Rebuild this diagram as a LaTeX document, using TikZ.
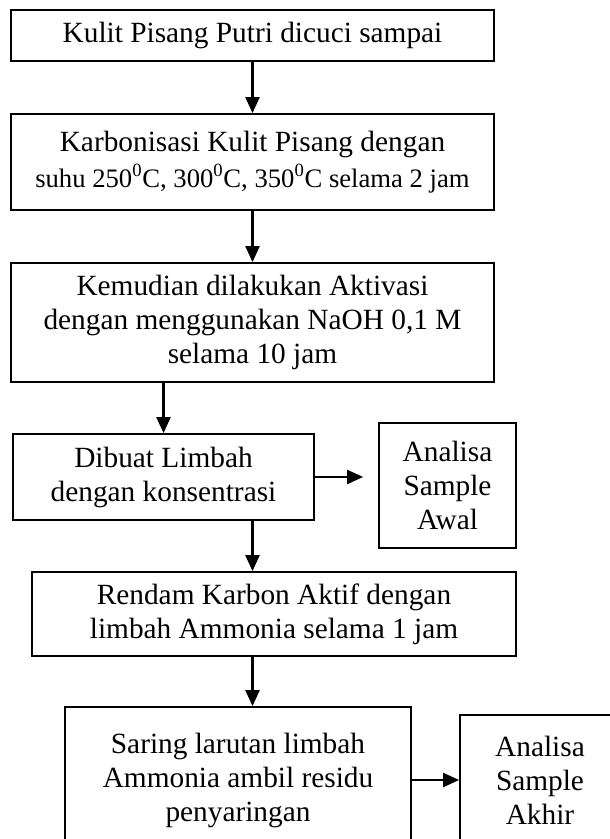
\documentclass[tikz,border=0pt]{standalone}
\usepackage{fontspec}
\setmainfont{Liberation Serif}
\usetikzlibrary{arrows.meta}

\begin{document}
\begin{tikzpicture}[x=0.75pt, y=-0.75pt, every node/.style={inner sep=1.5pt},
  kotak/.style={draw, line width=1.3pt, align=center, font=\fontsize{22pt}{25.5pt}\selectfont},
  panah/.style={-{Triangle[length=12pt,width=10.5pt]}, line width=1.6pt}]
  \useasboundingbox (0,0) rectangle (610,839);
  \node[kotak, minimum width=362.25pt, minimum height=38.25pt] (cuci) at (252.5,35.5) {Kulit Pisang Putri dicuci sampai};
  \node[kotak, minimum width=362.25pt, minimum height=72pt] (karbon) at (252.5,162) {Karbonisasi Kulit Pisang dengan\\[1pt] \fontsize{20pt}{25.5pt}\selectfont suhu 250\textsuperscript{0}C, 300\textsuperscript{0}C, 350\textsuperscript{0}C selama 2 jam};
  \node[kotak, minimum width=362.25pt, minimum height=89.25pt] (aktivasi) at (252.5,322.5) {Kemudian dilakukan Aktivasi\\ dengan menggunakan NaOH 0,1 M\\ selama 10 jam};
  \node[kotak, minimum width=225.75pt, minimum height=64.5pt] (limbah) at (163.5,477) {Dibuat Limbah\\ dengan konsentrasi};
  \node[kotak, minimum width=102.75pt, minimum height=93.75pt] (awal) at (447.5,485.5) {Analisa\\ Sample\\ Awal};
  \node[kotak, minimum width=363pt, minimum height=63pt] (rendam) at (274,614) {Rendam Karbon Aktif dengan\\ limbah Ammonia selama 1 jam};
  \node[kotak, minimum width=259.5pt, minimum height=109.5pt] (saring) at (238,780) {Saring larutan limbah\\ Ammonia ambil residu\\ penyaringan};
  \node[kotak, minimum width=120pt, minimum height=97.5pt] (akhir) at (540,780) {Analisa\\ Sample\\ Akhir};
  \draw[panah] (cuci) -- (karbon);
  \draw[panah] (karbon) -- (aktivasi);
  \draw[panah] (limbah.north |- aktivasi.south) -- (limbah.north);
  \draw[panah, shorten >=11.25pt] (limbah.east) -- (limbah.east -| awal.west);
  \draw[panah] (aktivasi.south |- limbah.south) -- (aktivasi.south |- rendam.north);
  \draw[panah] (aktivasi.south |- rendam.south) -- (aktivasi.south |- saring.north);
  \draw[panah] (saring.east) -- (saring.east -| akhir.west);
\end{tikzpicture}
\end{document}
